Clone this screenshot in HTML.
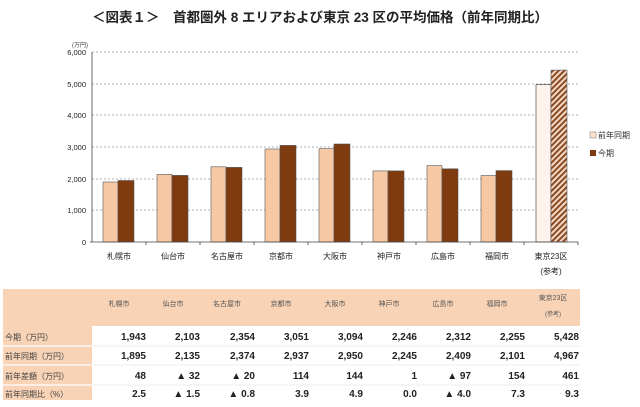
<!DOCTYPE html><html><head><meta charset="utf-8"><style>
body{margin:0;background:#fff;width:640px;height:402px;overflow:hidden;font-family:"Liberation Sans","Noto Sans CJK JP",sans-serif}
</style></head><body>
<svg width="640" height="402" xmlns="http://www.w3.org/2000/svg" font-family="Liberation Sans, Noto Sans CJK JP, sans-serif">
<defs><pattern id="h" width="4" height="4" patternUnits="userSpaceOnUse" patternTransform="rotate(45)"><rect width="4" height="4" fill="#f3d9c6"/><rect width="2" height="4" fill="#8a4a22"/></pattern></defs>
<text x="320" y="22" text-anchor="middle" font-size="13.5" font-weight="bold" fill="#222">＜図表１＞　首都圏外 8 エリアおよび東京 23 区の平均価格（前年同期比）</text>
<text x="72" y="47" font-size="6" fill="#444">(万円)</text>
<g font-size="7.5" fill="#222" text-anchor="end">
<text x="86" y="55">6,000</text><text x="86" y="87">5,000</text><text x="86" y="118">4,000</text><text x="86" y="150">3,000</text><text x="86" y="182">2,000</text><text x="86" y="213">1,000</text><text x="86" y="245">0</text></g>
<g stroke="#999" stroke-dasharray="2,2" stroke-width="0.8">
<line x1="92" x2="578" y1="52" y2="52"/><line x1="92" x2="578" y1="84" y2="84"/><line x1="92" x2="578" y1="115" y2="115"/><line x1="92" x2="578" y1="147" y2="147"/><line x1="92" x2="578" y1="179" y2="179"/><line x1="92" x2="578" y1="210" y2="210"/></g>
<g stroke="#555" stroke-width="0.6">
<rect x="103" y="182" width="15" height="60" fill="#f6c8a4"/><rect x="118" y="180.5" width="16" height="61.5" fill="#7f3a10"/>
<rect x="157" y="174.4" width="15" height="67.6" fill="#f6c8a4"/><rect x="172" y="175.4" width="16" height="66.6" fill="#7f3a10"/>
<rect x="211" y="166.8" width="15" height="75.2" fill="#f6c8a4"/><rect x="226" y="167.4" width="16" height="74.6" fill="#7f3a10"/>
<rect x="265" y="149" width="15" height="93" fill="#f6c8a4"/><rect x="280" y="145.4" width="16" height="96.6" fill="#7f3a10"/>
<rect x="319" y="148.6" width="15" height="93.4" fill="#f6c8a4"/><rect x="334" y="144" width="16" height="98" fill="#7f3a10"/>
<rect x="373" y="170.9" width="15" height="71.1" fill="#f6c8a4"/><rect x="388" y="170.9" width="16" height="71.1" fill="#7f3a10"/>
<rect x="427" y="165.7" width="15" height="76.3" fill="#f6c8a4"/><rect x="442" y="168.8" width="16" height="73.2" fill="#7f3a10"/>
<rect x="481" y="175.5" width="15" height="66.5" fill="#f6c8a4"/><rect x="496" y="170.6" width="16" height="71.4" fill="#7f3a10"/>
<rect x="536" y="84.7" width="15" height="157.3" fill="#fdf3ec" stroke="#333"/><rect x="551" y="70.1" width="16" height="171.9" fill="url(#h)"/>
</g>
<g stroke="#444" stroke-width="0.8"><line x1="92" y1="52" x2="92" y2="242"/><line x1="90" y1="242" x2="578" y2="242"/>
<line x1="146" y1="242" x2="146" y2="245"/><line x1="200" y1="242" x2="200" y2="245"/><line x1="254" y1="242" x2="254" y2="245"/><line x1="308" y1="242" x2="308" y2="245"/><line x1="362" y1="242" x2="362" y2="245"/><line x1="416" y1="242" x2="416" y2="245"/><line x1="470" y1="242" x2="470" y2="245"/><line x1="524" y1="242" x2="524" y2="245"/><line x1="578" y1="242" x2="578" y2="245"/></g>
<g font-size="8" fill="#222" text-anchor="middle">
<text x="119" y="259">札幌市</text><text x="173" y="259">仙台市</text><text x="227" y="259">名古屋市</text><text x="281" y="259">京都市</text><text x="335" y="259">大阪市</text><text x="389" y="259">神戸市</text><text x="443" y="259">広島市</text><text x="497" y="259">福岡市</text><text x="551" y="259">東京23区</text><text x="551" y="274">(参考)</text></g>
<rect x="590" y="132" width="6" height="6" fill="#fbe3d0" stroke="#777" stroke-width="0.5"/><text x="598" y="138" font-size="8" fill="#333">前年同期</text>
<rect x="590" y="150" width="6" height="6" fill="#7f3a10"/><text x="598" y="156" font-size="8" fill="#333">今期</text>
<!-- table -->
<rect x="3" y="289" width="577" height="37" fill="#f8d3b6"/>
<rect x="3" y="326" width="89" height="74" fill="#f8d3b6"/>
<g stroke="#fff" stroke-width="1.2"><line x1="3" x2="92" y1="346" y2="346"/><line x1="3" x2="92" y1="365" y2="365"/><line x1="3" x2="92" y1="385" y2="385"/></g>
<g stroke="#ddd" stroke-width="0.6"><line x1="92" x2="580" y1="346" y2="346"/><line x1="92" x2="580" y1="365" y2="365"/><line x1="92" x2="580" y1="385" y2="385"/></g>
<g font-size="7" fill="#555" text-anchor="middle">
<text x="119" y="306">札幌市</text><text x="173" y="306">仙台市</text><text x="227" y="306">名古屋市</text><text x="281" y="306">京都市</text><text x="335" y="306">大阪市</text><text x="389" y="306">神戸市</text><text x="443" y="306">広島市</text><text x="497" y="306">福岡市</text><text x="553" y="300">東京23区</text><text x="553" y="316" font-size="6">(参考)</text></g>
<g font-size="8" fill="#444"><text x="5" y="340">今期（万円）</text><text x="5" y="359">前年同期（万円）</text><text x="5" y="379">前年差額（万円）</text><text x="5" y="397">前年同期比（%）</text></g>
<g font-size="10" font-weight="bold" fill="#222" text-anchor="end">
<text x="146" y="340">1,943</text><text x="200" y="340">2,103</text><text x="255" y="340">2,354</text><text x="309" y="340">3,051</text><text x="363" y="340">3,094</text><text x="417" y="340">2,246</text><text x="471" y="340">2,312</text><text x="525" y="340">2,255</text><text x="579" y="340">5,428</text>
<text x="146" y="359">1,895</text><text x="200" y="359">2,135</text><text x="255" y="359">2,374</text><text x="309" y="359">2,937</text><text x="363" y="359">2,950</text><text x="417" y="359">2,245</text><text x="471" y="359">2,409</text><text x="525" y="359">2,101</text><text x="579" y="359">4,967</text>
<text x="146" y="379">48</text><text x="200" y="379">▲ 32</text><text x="255" y="379">▲ 20</text><text x="309" y="379">114</text><text x="363" y="379">144</text><text x="417" y="379">1</text><text x="471" y="379">▲ 97</text><text x="525" y="379">154</text><text x="579" y="379">461</text>
<text x="146" y="397">2.5</text><text x="200" y="397">▲ 1.5</text><text x="255" y="397">▲ 0.8</text><text x="309" y="397">3.9</text><text x="363" y="397">4.9</text><text x="417" y="397">0.0</text><text x="471" y="397">▲ 4.0</text><text x="525" y="397">7.3</text><text x="579" y="397">9.3</text></g>
</svg></body></html>
